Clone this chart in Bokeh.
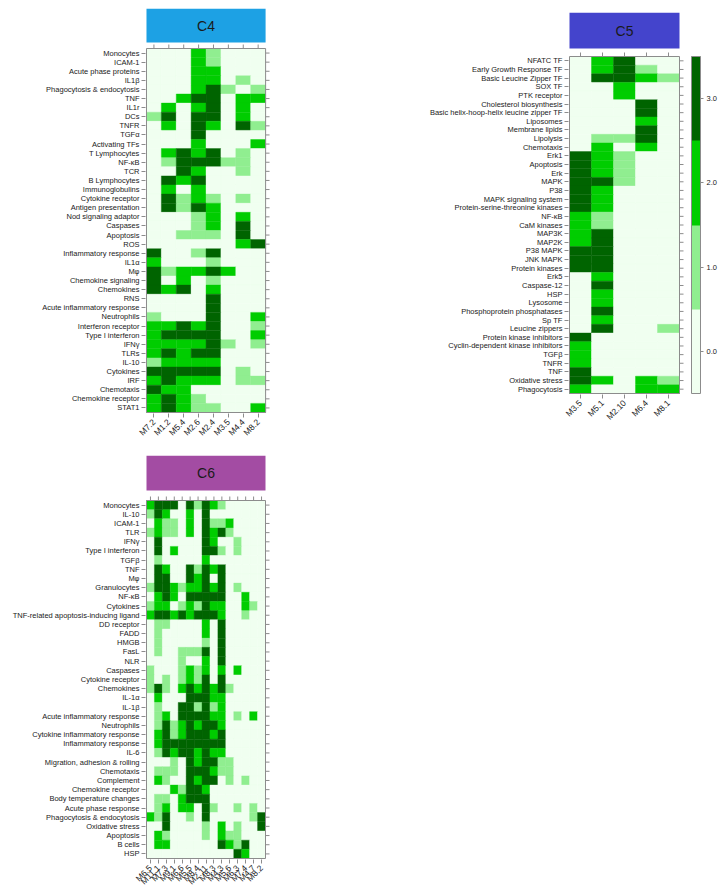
import math
from bokeh.plotting import figure
from bokeh.models import (Range1d, FixedTicker, LinearAxis, LinearColorMapper,
                          ColorBar, PrintfTickFormatter)
from bokeh.layouts import row, column
from bokeh.embed import file_html
from bokeh.resources import INLINE
from bokeh.core.properties import value

# ---------------- data ----------------
LEVEL_COLORS = ["#F0FFF0", "#90EE90", "#00CD00", "#006400"]
LEVEL_TICKS = [0, 1, 2, 3]

c4_cols = ["M7.2", "M1.2", "M5.4", "M2.6", "M2.4", "M3.5", "M4.4", "M8.2"]
c4_rows = ["Monocytes", "ICAM-1", "Acute phase proteins", "IL1β",
           "Phagocytosis & endocytosis", "TNF", "IL1r", "DCs", "TNFR", "TGFα",
           "Activating TFs", "T Lymphocytes", "NF-κB", "TCR", "B Lymphocytes",
           "Immunoglobulins", "Cytokine receptor", "Antigen presentation",
           "Nod signaling adaptor", "Caspases", "Apoptosis", "ROS",
           "Inflammatory response", "IL1α", "Mφ", "Chemokine signaling",
           "Chemokines", "RNS", "Acute inflammatory response", "Neutrophils",
           "Interferon receptor", "Type I interferon", "IFNγ", "TLRs", "IL-10",
           "Cytokines", "IRF", "Chemotaxis", "Chemokine receptor", "STAT1"]
c4_vals = [
    [0, 0, 0, 2, 1, 0, 0, 0],
    [0, 0, 0, 2, 1, 0, 0, 0],
    [0, 0, 0, 2, 2, 0, 0, 0],
    [0, 0, 0, 2, 2, 0, 1, 0],
    [0, 0, 0, 2, 3, 1, 0, 1],
    [0, 0, 2, 3, 3, 0, 2, 2],
    [0, 2, 0, 2, 3, 0, 2, 0],
    [1, 3, 0, 3, 3, 0, 2, 0],
    [0, 2, 0, 3, 2, 0, 3, 1],
    [0, 0, 0, 3, 0, 0, 0, 0],
    [0, 0, 0, 2, 0, 0, 0, 2],
    [0, 2, 3, 2, 3, 0, 1, 0],
    [0, 1, 3, 3, 3, 1, 1, 0],
    [0, 0, 3, 2, 0, 0, 1, 0],
    [0, 3, 2, 3, 0, 0, 0, 0],
    [0, 2, 0, 2, 0, 0, 0, 0],
    [0, 3, 1, 2, 1, 0, 1, 0],
    [0, 3, 1, 3, 2, 0, 0, 0],
    [0, 0, 0, 1, 2, 0, 2, 0],
    [0, 0, 0, 1, 2, 0, 3, 0],
    [0, 0, 1, 1, 1, 0, 3, 0],
    [0, 0, 0, 0, 0, 0, 2, 3],
    [3, 0, 0, 1, 3, 0, 0, 0],
    [2, 0, 0, 0, 1, 0, 0, 0],
    [3, 1, 2, 2, 3, 2, 0, 0],
    [3, 0, 2, 0, 1, 0, 0, 0],
    [3, 2, 3, 0, 2, 0, 0, 0],
    [0, 0, 0, 0, 3, 0, 0, 0],
    [0, 0, 0, 0, 3, 0, 0, 0],
    [1, 0, 0, 0, 3, 0, 0, 2],
    [2, 2, 3, 2, 3, 0, 0, 1],
    [2, 3, 3, 3, 3, 0, 0, 2],
    [2, 2, 2, 2, 3, 1, 0, 1],
    [2, 3, 2, 3, 3, 0, 0, 0],
    [1, 2, 2, 2, 2, 0, 0, 0],
    [3, 3, 3, 3, 3, 0, 1, 0],
    [2, 3, 2, 2, 2, 0, 1, 1],
    [3, 2, 2, 0, 0, 0, 0, 0],
    [2, 3, 2, 1, 0, 0, 0, 0],
    [2, 3, 2, 1, 1, 0, 0, 2],
]

c5_cols = ["M3.5", "M5.1", "M2.10", "M6.4", "M8.1"]
c5_rows = ["NFATC TF", "Early Growth Response TF", "Basic Leucine Zipper TF",
           "SOX TF", "PTK receptor", "Cholesterol biosynthesis",
           "Basic helix-hoop-helix leucine zipper TF", "Liposomes",
           "Membrane lipids", "Lipolysis", "Chemotaxis", "Erk1", "Apoptosis",
           "Erk", "MAPK", "P38", "MAPK signaling system",
           "Protein-serine-threonine kinases", "NF-κB", "CaM kinases", "MAP3K",
           "MAP2K", "P38 MAPK", "JNK MAPK", "Protein kinases", "Erk5",
           "Caspase-12", "HSP", "Lysosome", "Phosphoprotein phosphatases",
           "Sp TF", "Leucine zippers", "Protein kinase inhibitors",
           "Cyclin-dependent kinase inhibitors", "TGFβ", "TNFR", "TNF",
           "Oxidative stress", "Phagocytosis"]
c5_vals = [
    [0, 2, 3, 0, 0],
    [0, 2, 3, 1, 0],
    [0, 3, 3, 2, 1],
    [0, 0, 2, 0, 0],
    [0, 0, 2, 0, 0],
    [0, 0, 0, 3, 0],
    [0, 0, 0, 3, 0],
    [0, 0, 0, 2, 0],
    [0, 0, 0, 3, 0],
    [0, 1, 1, 3, 0],
    [0, 2, 0, 2, 0],
    [3, 2, 1, 0, 0],
    [3, 2, 1, 0, 0],
    [3, 2, 1, 0, 0],
    [3, 3, 1, 0, 0],
    [3, 2, 0, 0, 0],
    [3, 2, 0, 0, 0],
    [3, 2, 0, 0, 0],
    [2, 1, 0, 0, 0],
    [2, 1, 0, 0, 0],
    [2, 3, 0, 0, 0],
    [2, 3, 0, 0, 0],
    [3, 3, 0, 0, 0],
    [3, 3, 0, 0, 0],
    [3, 3, 0, 0, 0],
    [0, 2, 0, 0, 0],
    [0, 3, 0, 0, 0],
    [0, 2, 0, 0, 0],
    [0, 2, 0, 0, 0],
    [0, 3, 0, 0, 0],
    [0, 2, 0, 0, 0],
    [0, 3, 0, 0, 1],
    [3, 0, 0, 0, 0],
    [2, 0, 0, 0, 0],
    [2, 0, 0, 0, 0],
    [2, 0, 0, 0, 0],
    [3, 0, 0, 0, 0],
    [3, 2, 0, 2, 1],
    [2, 0, 0, 2, 2],
]

c6_cols = ["M6.5", "M11.1", "M7.3", "M9.1", "M6.6", "M5.5", "M8.4", "M2.11",
           "M8.3", "M4.3", "M5.6", "M6.3", "M7.4", "M4.7", "M8.2"]
c6_rows = ["Monocytes", "IL-10", "ICAM-1", "TLR", "IFNγ", "Type I interferon",
           "TGFβ", "TNF", "Mφ", "Granulocytes", "NF-κB", "Cytokines",
           "TNF-related apoptosis-inducing ligand", "DD receptor", "FADD",
           "HMGB", "FasL", "NLR", "Caspases", "Cytokine receptor", "Chemokines",
           "IL-1α", "IL-1β", "Acute inflammatory response", "Neutrophils",
           "Cytokine inflammatory response", "Inflammatory response", "IL-6",
           "Migration, adhesion & rolling", "Chemotaxis", "Complement",
           "Chemokine receptor", "Body temperature changes",
           "Acute phase response", "Phagocytosis & endocytosis",
           "Oxidative stress", "Apoptosis", "B cells", "HSP"]
c6_vals = [
    [2, 3, 3, 3, 0, 3, 1, 3, 2, 1, 0, 0, 0, 0, 0],
    [1, 3, 2, 0, 0, 2, 0, 3, 0, 0, 0, 0, 0, 0, 0],
    [0, 2, 1, 1, 0, 2, 0, 3, 1, 1, 2, 0, 0, 0, 0],
    [1, 2, 1, 1, 0, 2, 0, 3, 2, 3, 1, 0, 0, 0, 0],
    [0, 3, 0, 0, 0, 0, 0, 3, 2, 0, 0, 1, 0, 0, 0],
    [0, 3, 0, 2, 0, 0, 0, 3, 3, 1, 0, 1, 0, 0, 0],
    [0, 1, 0, 0, 0, 0, 0, 2, 0, 0, 0, 0, 0, 0, 0],
    [0, 3, 2, 0, 0, 3, 1, 3, 2, 3, 0, 0, 0, 0, 0],
    [0, 3, 3, 0, 0, 3, 2, 3, 0, 3, 0, 0, 0, 0, 0],
    [1, 3, 3, 2, 1, 2, 2, 3, 2, 3, 0, 1, 0, 0, 0],
    [0, 2, 3, 2, 0, 3, 3, 3, 3, 3, 0, 0, 2, 0, 0],
    [1, 2, 2, 0, 1, 2, 1, 3, 2, 2, 0, 0, 2, 1, 0],
    [2, 3, 3, 2, 3, 2, 3, 3, 3, 2, 0, 0, 1, 0, 0],
    [0, 1, 1, 0, 0, 0, 0, 2, 0, 3, 0, 0, 0, 0, 0],
    [0, 1, 0, 0, 0, 0, 0, 2, 0, 3, 0, 0, 0, 0, 0],
    [0, 1, 0, 0, 0, 0, 0, 1, 0, 3, 0, 0, 0, 0, 0],
    [0, 1, 0, 0, 1, 1, 1, 3, 0, 3, 0, 0, 0, 0, 0],
    [0, 0, 0, 0, 1, 0, 0, 2, 0, 3, 0, 0, 0, 0, 0],
    [1, 0, 0, 0, 1, 2, 1, 2, 0, 2, 0, 2, 0, 0, 0],
    [1, 0, 1, 0, 1, 2, 1, 3, 0, 3, 0, 0, 0, 0, 0],
    [1, 3, 1, 0, 2, 3, 2, 3, 2, 3, 1, 0, 0, 0, 0],
    [0, 2, 0, 0, 0, 3, 3, 3, 2, 2, 0, 0, 0, 0, 0],
    [0, 1, 0, 0, 3, 3, 1, 3, 1, 2, 0, 0, 0, 0, 0],
    [0, 1, 2, 0, 3, 3, 3, 3, 2, 2, 0, 1, 0, 2, 0],
    [0, 1, 3, 1, 2, 3, 2, 3, 3, 2, 0, 0, 0, 0, 0],
    [0, 2, 3, 1, 2, 3, 3, 3, 2, 3, 0, 0, 0, 0, 0],
    [0, 2, 3, 3, 3, 3, 3, 3, 3, 3, 0, 0, 0, 0, 0],
    [0, 1, 3, 2, 3, 3, 2, 3, 2, 2, 0, 0, 0, 0, 0],
    [0, 0, 0, 1, 0, 3, 2, 3, 3, 1, 1, 0, 0, 0, 0],
    [0, 1, 1, 1, 0, 3, 3, 3, 2, 1, 1, 0, 0, 0, 0],
    [0, 2, 1, 0, 0, 3, 2, 3, 3, 0, 1, 0, 1, 0, 0],
    [0, 0, 0, 2, 1, 3, 3, 2, 0, 0, 0, 0, 0, 0, 0],
    [0, 1, 1, 0, 2, 3, 3, 3, 0, 0, 0, 0, 0, 0, 0],
    [0, 1, 2, 0, 2, 2, 0, 3, 1, 0, 0, 1, 0, 1, 0],
    [2, 1, 3, 0, 0, 1, 0, 3, 0, 0, 0, 0, 0, 1, 3],
    [0, 0, 3, 0, 0, 0, 0, 1, 0, 2, 0, 1, 0, 0, 3],
    [0, 2, 1, 0, 0, 0, 0, 1, 0, 2, 1, 1, 0, 0, 0],
    [0, 2, 2, 0, 0, 0, 0, 0, 0, 3, 2, 1, 3, 0, 0],
    [0, 0, 0, 0, 0, 0, 0, 0, 0, 0, 0, 3, 2, 0, 0],
]

# ---------------- styling ----------------
FONT = "Liberation Sans"
GREY = "#8c8c8c"
TXT = "#1a1a1a"
LABEL_SIZE = "7.5px"
XLABEL_SIZE = "8.5px"
TICK = 4  # tick length, px


def style_axis(ax, size=LABEL_SIZE, standoff=2):
    ax.axis_line_color = None
    ax.major_tick_line_color = GREY
    ax.major_tick_in = 0
    ax.major_tick_out = TICK
    ax.minor_tick_line_color = None
    ax.major_label_text_font = FONT
    ax.major_label_text_color = TXT
    ax.major_label_text_font_size = size
    ax.major_label_standoff = standoff


def make_panel(name, head_color, cols, rows, vals, width, height, bl, bt,
               gw, gh, hh, gap, colorbar=None):
    nc, nr = len(cols), len(rows)
    pxx = gw / nc
    pxy = gh / nr
    pad = 1.0
    rspace = pad + TICK + 1  # room inside frame for right-hand ticks
    grid_top = nr - 0.5
    head_bot = grid_top + gap / pxy
    head_top = head_bot + hh / pxy
    frame_w = gw + pad + rspace
    frame_h = gh + pad + gap + hh
    p = figure(width=width, height=height,
               x_range=Range1d(-0.5 - pad / pxx, nc - 0.5 + rspace / pxx),
               y_range=Range1d(-0.5 - pad / pxy, head_top),
               output_backend="svg", toolbar_location=None,
               x_axis_location=None, y_axis_location=None,
               min_border_left=bl, min_border_top=bt,
               min_border_right=int(round(width - bl - frame_w)),
               min_border_bottom=int(round(height - bt - frame_h)))
    p.outline_line_color = None
    p.grid.visible = False
    p.background_fill_color = "white"
    p.border_fill_color = "white"

    xs, ys, cs = [], [], []
    for i, r in enumerate(rows):
        for j, c in enumerate(cols):
            xs.append(j)
            ys.append(nr - 1 - i)
            cs.append(LEVEL_COLORS[vals[i][j]])
    p.rect(x=xs, y=ys, width=1, height=1, fill_color=cs, line_color=cs,
           line_width=0.4)
    # grid border
    p.quad(left=[-0.5], right=[nc - 0.5], bottom=[-0.5], top=[grid_top],
           fill_color=None, line_color=GREY, line_width=1)
    # top ticks
    p.segment(x0=list(range(nc)), y0=[grid_top] * nc, x1=list(range(nc)),
              y1=[grid_top + TICK / pxy] * nc, line_color=GREY, line_width=1)
    # right ticks
    p.segment(x0=[nc - 0.5] * nr, y0=list(range(nr)),
              x1=[nc - 0.5 + TICK / pxx] * nr, y1=list(range(nr)),
              line_color=GREY, line_width=1)
    # header strip
    p.quad(left=[-0.5], right=[nc - 0.5], bottom=[head_bot], top=[head_top],
           fill_color=head_color, line_color=None)
    p.text(x=[(nc - 1) / 2], y=[(head_bot + head_top) / 2], text=[name],
           text_align="center", text_baseline="middle",
           text_font=value(FONT), text_font_size="14px", text_color=TXT)

    left = LinearAxis(ticker=FixedTicker(ticks=list(range(nr))),
                      major_label_overrides={nr - 1 - i: r for i, r in enumerate(rows)})
    style_axis(left)
    p.add_layout(left, "left")
    bottom = LinearAxis(ticker=FixedTicker(ticks=list(range(nc))),
                        major_label_overrides={j: c for j, c in enumerate(cols)},
                        major_label_orientation=math.pi / 4)
    style_axis(bottom, size=XLABEL_SIZE, standoff=3)
    p.add_layout(bottom, "below")

    if colorbar is not None:
        mapper = LinearColorMapper(palette=LEVEL_COLORS, low=-0.5, high=3.5)
        cb = ColorBar(color_mapper=mapper,
                      ticker=FixedTicker(ticks=LEVEL_TICKS),
                      formatter=PrintfTickFormatter(format="%.1f"),
                      width=9, height=int(gh), padding=0, margin=0,
                      location=colorbar,
                      bar_line_color=GREY, border_line_color=None,
                      background_fill_color=None,
                      major_tick_in=0, major_tick_out=3,
                      major_tick_line_color=GREY, label_standoff=3,
                      major_label_text_font=FONT,
                      major_label_text_font_size=LABEL_SIZE,
                      major_label_text_color=TXT)
        p.add_layout(cb, "right")
    return p


p4 = make_panel("C4", "#1DA1E4", c4_cols, c4_rows, c4_vals,
                width=280, height=455, bl=145, bt=8,
                gw=121, gh=364, hh=34, gap=6)
p6 = make_panel("C6", "#A34CA3", c6_cols, c6_rows, c6_vals,
                width=280, height=437, bl=145, bt=0,
                gw=119, gh=358, hh=35, gap=10)
p5 = make_panel("C5", "#4444CC", c5_cols, c5_rows, c5_vals,
                width=443, height=430, bl=288, bt=12,
                gw=110, gh=337, hh=36, gap=8, colorbar=(6, 1))

layout = row(column(p4, p6), p5)
open("out.html", "w").write(file_html(layout, INLINE))
